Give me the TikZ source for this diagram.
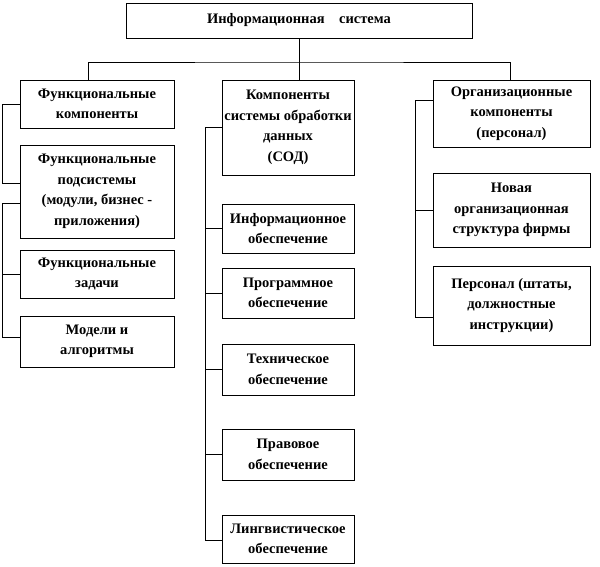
\documentclass[tikz,border=0pt]{standalone}
\usepackage{fontspec}
\setmainfont{Liberation Serif}
\usetikzlibrary{calc}

\tikzset{
  blk/.style={draw, line width=0.8pt, align=center, inner sep=1pt,
    font=\bfseries\fontsize{14.5}{20.5}\selectfont},
  lnk/.style={line width=0.6pt}
}

\begin{document}
\begin{tikzpicture}[x=1pt,y=1pt,yscale=-1,xscale=1]
\useasboundingbox (0,0) rectangle (600,566);

% Top box
\node [blk, minimum width=346, minimum height=35] (sys) at (299,20.5) {Информационная\quad система};

% Left column
\node [blk, minimum width=154, minimum height=48] (fk) at (97,104) {Функциональные\\компоненты};
\node [blk, minimum width=154, minimum height=93] (fp) at (97,191.5) {Функциональные\\подсистемы\\(модули, бизнес -\\приложения)};
\node [blk, minimum width=154, minimum height=48] (fz) at (97,274) {Функциональные\\задачи};
\node [blk, minimum width=154, minimum height=51] (ma) at (97,341.5) {Модели и\\алгоритмы};

% Middle column
\node [blk, minimum width=132, minimum height=95] (sod) at (288,127.5) {Компоненты\\системы обработки\\данных\\(СОД)};
\node [blk, minimum width=132, minimum height=49] (io) at (288,228.5) {Информационное\\обеспечение};
\node [blk, minimum width=132, minimum height=50] (po) at (288,293) {Программное\\обеспечение};
\node [blk, minimum width=132, minimum height=51] (to) at (288,369.5) {Техническое\\обеспечение};
\node [blk, minimum width=132, minimum height=51] (pr) at (288,454.5) {Правовое\\обеспечение};
\node [blk, minimum width=132, minimum height=48] (lo) at (288,539) {Лингвистическое\\обеспечение};

% Right column
\node [blk, minimum width=157, minimum height=67] (ok) at (511.5,113.5) {Организационные\\компоненты\\(персонал)};
\node [blk, minimum width=157, minimum height=74] (ns) at (511.5,210) {Новая\\организационная\\структура фирмы};
\node [blk, minimum width=157, minimum height=79] (ps) at (511.5,305.5) {Персонал (штаты,\\должностные\\инструкции)};

% Helper coordinates for the buses
\coordinate (bus) at (299,62);
\coordinate (lx) at (88,0);
\coordinate (rx) at (510,0);
\coordinate (lb) at (2,0);
\coordinate (mb) at (205,0);
\coordinate (rb) at (415,0);
\coordinate (fpa) at (0,183);
\coordinate (fpb) at (0,203);
\coordinate (mab) at (0,337);
\coordinate (lob) at (0,540);
\coordinate (oka) at (0,100);
\coordinate (psb) at (0,317);

% Bus from the top box
\draw [lnk] (sys.south) -- (bus);
\draw [lnk] (lx |- fk.north) |- (bus) -| (rx |- ok.north);
\draw [lnk] (bus) -- (bus |- sod.north);

% Left brackets
\draw [lnk] (fk.west) -| (lb |- fpa) -- (fp.west |- fpa);
\draw [lnk] (fp.west |- fpb) -| (lb |- mab) -- (ma.west |- mab);
\draw [lnk] (lb |- fz.west) -- (fz.west);

% Middle bracket
\draw [lnk] (sod.west) -| (mb |- lob) -- (lo.west |- lob);
\foreach \n in {io,po,to,pr}
  \draw [lnk] (mb |- \n.west) -- (\n.west);

% Right bracket
\draw [lnk] (ok.west |- oka) -| (rb |- psb) -- (ps.west |- psb);
\draw [lnk] (rb |- ns.west) -- (ns.west);
\end{tikzpicture}
\end{document}
